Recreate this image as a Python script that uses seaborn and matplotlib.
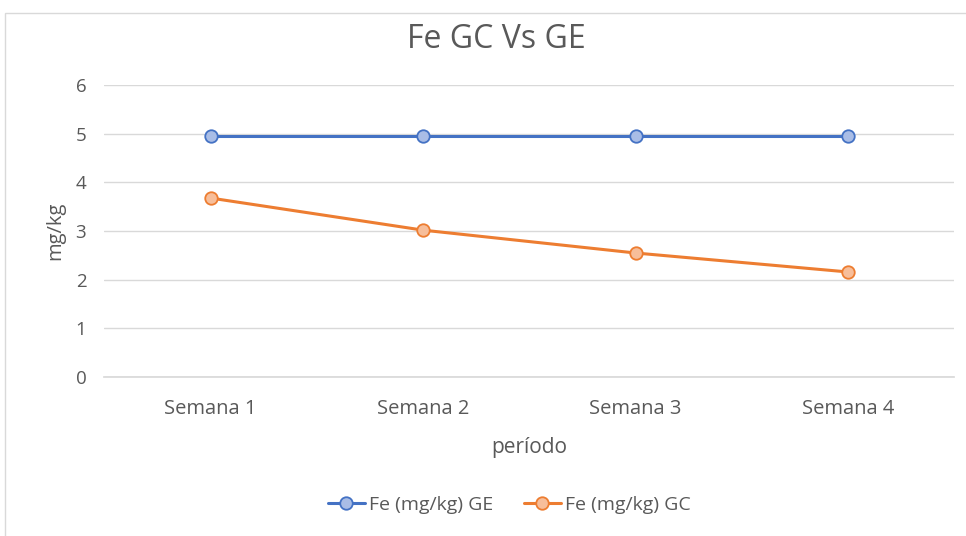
import matplotlib

matplotlib.use("Agg")
import matplotlib.pyplot as plt
import pandas as pd
import seaborn as sns
from matplotlib.patches import Rectangle

# datos
semanas = ["Semana 1", "Semana 2", "Semana 3", "Semana 4"]
fe_ge = [4.95, 4.95, 4.95, 4.95]
fe_gc = [3.68, 3.02, 2.55, 2.16]

df = pd.DataFrame(
    {
        "período": semanas * 2,
        "mg/kg": fe_ge + fe_gc,
        "serie": ["Fe (mg/kg) GE"] * 4 + ["Fe (mg/kg) GC"] * 4,
    }
)

sns.set_theme(style="white")
plt.rcParams["font.family"] = ["Open Sans", "DejaVu Sans"]

gris = "#595959"
colores = {"Fe (mg/kg) GE": "#4472C4", "Fe (mg/kg) GC": "#ED7D31"}
rellenos = {"Fe (mg/kg) GE": "#A9BDE6", "Fe (mg/kg) GC": "#F7BE9A"}

fig = plt.figure(figsize=(9.66, 5.36), dpi=100)
ax = fig.add_axes([0.108, 0.2966, 0.880, 0.5444])

for serie, color in colores.items():
    sub = df[df["serie"] == serie]
    sns.lineplot(
        data=sub,
        x="período",
        y="mg/kg",
        color=color,
        linewidth=2.2,
        marker="o",
        markersize=9,
        markerfacecolor=rellenos[serie],
        markeredgecolor=color,
        markeredgewidth=1.3,
        label=serie,
        ax=ax,
    )

ax.set_ylim(0, 6)
ax.set_xlim(-0.5, 3.5)
ax.set_yticks(range(0, 7))
ax.grid(axis="y", color="#D9D9D9", linewidth=1)
ax.grid(axis="x", visible=False)
for s in ["top", "right", "left"]:
    ax.spines[s].set_visible(False)
ax.spines["bottom"].set_color("#D9D9D9")
ax.tick_params(length=0, labelcolor=gris)
ax.tick_params(axis="x", pad=16, labelsize=14.5)
ax.tick_params(axis="y", pad=13, labelsize=13.5)

ax.set_xlabel("período", fontsize=15, color=gris)
ax.xaxis.set_label_coords(0.5, (377 - 448) / 292)
ax.xaxis.label.set_va("center")
ax.set_ylabel("mg/kg", fontsize=14.5, color=gris)
ax.yaxis.set_label_coords((55 - 104) / 850, 0.5)
ax.yaxis.label.set_va("center")

fig.text(496 / 966, 1 - 39 / 536, "Fe GC Vs GE", fontsize=23, color=gris,
         ha="center", va="center")

ax.get_legend().remove()
handles, labels = ax.get_legend_handles_labels()
fig.legend(
    handles,
    labels,
    loc="center",
    bbox_to_anchor=(0.527, 0.058),
    ncol=2,
    frameon=False,
    fontsize=14,
    labelcolor=gris,
    handlelength=1.9,
    columnspacing=1.6,
    handletextpad=0.2,
)

# borde del área del gráfico
fig.patches.append(
    Rectangle(
        (5 / 966, -0.01),
        1.0,
        1 - 13 / 536 + 0.01,
        transform=fig.transFigure,
        fill=False,
        edgecolor="#D9D9D9",
        linewidth=1,
    )
)

fig.savefig("out.png", dpi=100)
